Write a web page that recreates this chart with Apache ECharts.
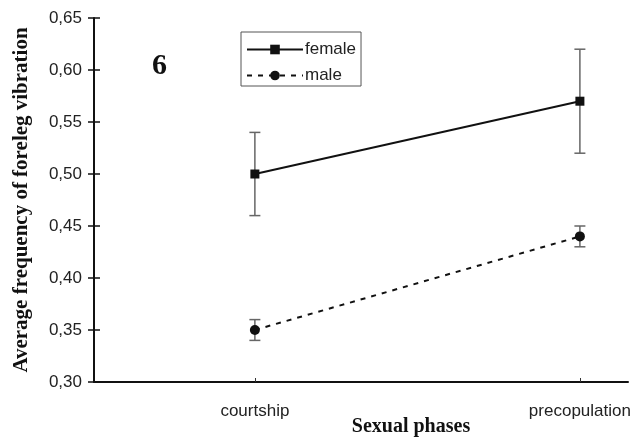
<!DOCTYPE html>
<html>
<head>
<meta charset="utf-8">
<script src="https://cdn.jsdelivr.net/npm/echarts@6/dist/echarts.min.js"></script>
<style>html,body{margin:0;padding:0;background:#fff}#c{width:634px;height:437px}</style>
</head>
<body>
<div id="c"></div>
<script>
var categories = ['courtship', 'precopulation'];
var femaleMean = [0.50, 0.57];
var femaleErr = [0.04, 0.05];
var maleMean = [0.35, 0.44];
var maleErr = [0.01, 0.01];
var yTicks = [0.30, 0.35, 0.40, 0.45, 0.50, 0.55, 0.60, 0.65];

function pts(means) { return means.map(function (v, i) { return [i + 1, v]; }); }
function errData(means, errs) { return means.map(function (v, i) { return [i + 1, v - errs[i], v + errs[i]]; }); }

function errRender(params, api) {
  var x = api.value(0);
  var lo = api.coord([x, api.value(1)]);
  var hi = api.coord([x, api.value(2)]);
  var w = 5.5;
  var st = { stroke: '#666', lineWidth: 1.5 };
  return {
    type: 'group',
    children: [
      { type: 'line', shape: { x1: lo[0], y1: lo[1], x2: hi[0], y2: hi[1] }, style: st },
      { type: 'line', shape: { x1: lo[0] - w, y1: lo[1], x2: lo[0] + w, y2: lo[1] }, style: st },
      { type: 'line', shape: { x1: hi[0] - w, y1: hi[1], x2: hi[0] + w, y2: hi[1] }, style: st }
    ]
  };
}

var chart = echarts.init(document.getElementById('c'), null, { renderer: 'canvas' });
var fmtY = function (v) { return v.toFixed(2).replace('.', ','); };
chart.setOption({
  animation: false,
  backgroundColor: '#fff',
  title: {
    text: '6', left: 152, top: 51, padding: 0,
    textStyle: { fontFamily: 'Liberation Serif', fontWeight: 'bold', fontSize: 30, color: '#111' }
  },
  legend: {
    orient: 'vertical', left: 241, top: 32,
    borderColor: '#555', borderWidth: 1, padding: [9, 5, 2, 5],
    itemWidth: 56, itemHeight: 12, itemGap: 9,
    textStyle: { fontFamily: 'Liberation Sans', fontSize: 17, color: '#222', padding: [0, 0, 0, -3] },
    data: ['female', 'male']
  },
  grid: { left: 94, right: 6, top: 18, bottom: 55, containLabel: false, outerBoundsMode: 'none' },
  xAxis: {
    type: 'value', min: 0.505, max: 2.148,
    splitLine: { show: false },
    axisLine: { lineStyle: { color: '#111', width: 2 } },
    axisTick: { inside: true, length: 4, customValues: [1, 2], lineStyle: { color: '#333' } },
    axisLabel: {
      customValues: [1, 2], margin: 21,
      formatter: function (v) { return categories[Math.round(v) - 1] || ''; },
      fontFamily: 'Liberation Sans', fontSize: 17, color: '#222'
    },
    name: 'Sexual phases', nameLocation: 'middle', nameGap: 35, nameMoveOverlap: false,
    nameTextStyle: { fontFamily: 'Liberation Serif', fontWeight: 'bold', fontSize: 20, color: '#111', padding: [0, 0, 0, 100] }
  },
  yAxis: [{
    type: 'value', min: 0.30, max: 0.65, interval: 0.05,
    splitLine: { show: false },
    axisLine: { show: true, lineStyle: { color: '#111', width: 2 } },
    axisTick: { show: true, length: 6, lineStyle: { color: '#111', width: 1.5 } },
    axisLabel: { formatter: fmtY, margin: 12, fontFamily: 'Liberation Sans', fontSize: 17, color: '#222' },
    name: 'Average frequency of foreleg vibration', nameLocation: 'middle', nameGap: 62, nameMoveOverlap: false,
    nameTextStyle: { fontFamily: 'Liberation Serif', fontWeight: 'bold', fontSize: 21, color: '#111' }
  }, {
    type: 'value', min: 0.30, max: 0.65, interval: 0.05, position: 'left',
    splitLine: { show: false },
    axisLine: { show: false },
    axisTick: { show: true, inside: true, length: 6, lineStyle: { color: '#111', width: 1.5 } },
    axisLabel: { show: false }
  }],
  series: [
    {
      name: 'female', type: 'line', data: pts(femaleMean),
      symbol: 'rect', symbolSize: 9,
      itemStyle: { color: '#111' },
      lineStyle: { color: '#111', width: 2 },
      z: 3
    },
    {
      name: 'male', type: 'line', data: pts(maleMean),
      symbol: 'circle', symbolSize: 10,
      itemStyle: { color: '#111' },
      lineStyle: { color: '#111', width: 2, type: [5, 6] },
      z: 3
    },
    { type: 'custom', name: 'femaleErr', data: errData(femaleMean, femaleErr), renderItem: errRender, z: 2, silent: true },
    { type: 'custom', name: 'maleErr', data: errData(maleMean, maleErr), renderItem: errRender, z: 2, silent: true }
  ]
});
</script>
</body>
</html>
